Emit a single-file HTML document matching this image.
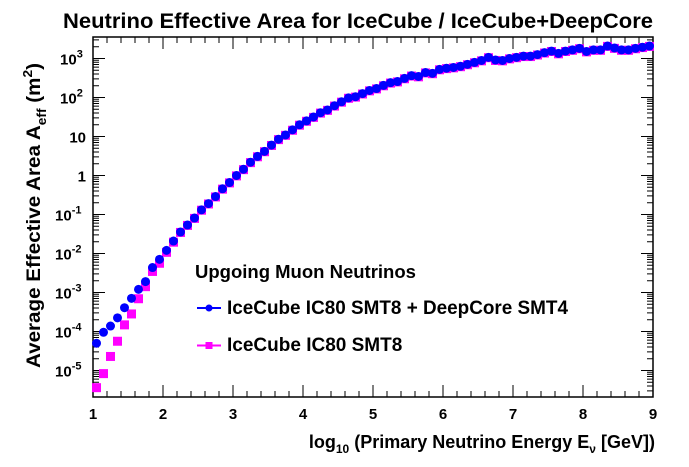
<!DOCTYPE html>
<html><head><meta charset="utf-8"><style>
body{margin:0;background:#fff;}
svg{display:block;font-family:"Liberation Sans",Arial,sans-serif;font-weight:bold;}
</style></head><body>
<svg id="chart" width="689" height="467" viewBox="0 0 689 467" xmlns="http://www.w3.org/2000/svg">
<rect width="689" height="467" fill="#fff"/>
<text x="63" y="28" font-size="21" textLength="590" lengthAdjust="spacingAndGlyphs">Neutrino Effective Area for IceCube / IceCube+DeepCore</text>
<g id="axes"></g>
<g id="marks"></g>
<text x="655" y="448" font-size="18" text-anchor="end">log<tspan font-size="12" dy="5">10</tspan><tspan dy="-5"> (Primary Neutrino Energy E</tspan><tspan font-size="12" dy="5">ν</tspan><tspan dy="-5"> [GeV])</tspan></text>
<text transform="translate(40,368) rotate(-90)" font-size="19.5" textLength="305" lengthAdjust="spacingAndGlyphs">Average Effective Area A<tspan font-size="13" dy="6">eff</tspan><tspan dy="-6">  (m</tspan><tspan font-size="13" dy="-8">2</tspan><tspan dy="8">)</tspan></text>
<g>
<text x="195" y="278" font-size="18.5">Upgoing Muon Neutrinos</text>
<g>
<line x1="197" y1="308" x2="221" y2="308" stroke="#0000ff" stroke-width="2"/>
<circle cx="209" cy="308" r="3.5" fill="#0000ff"/>
<text x="227" y="314" font-size="19" textLength="341" lengthAdjust="spacingAndGlyphs">IceCube IC80 SMT8 + DeepCore SMT4</text></g>
<g>
<line x1="197" y1="345.5" x2="221" y2="345.5" stroke="#ff00ff" stroke-width="2"/>
<rect x="205.5" y="342" width="7" height="7" fill="#ff00ff"/>
<text x="227" y="351" font-size="19">IceCube IC80 SMT8</text></g>
</g>
</svg>
<script>
const energies=[];for(let i=0;i<80;i++)energies.push(+(1.05+0.1*i).toFixed(2));
const blueLog=[-4.3,-4.02,-3.86,-3.65,-3.39,-3.15,-2.92,-2.72,-2.36,-2.15,-1.92,-1.68,-1.45,-1.27,-1.09,-0.88,-0.72,-0.54,-0.34,-0.18,
0,0.16,0.34,0.49,0.62,0.78,0.93,1.04,1.17,1.3,1.4,1.5,1.61,1.68,1.79,1.89,1.99,2.02,2.1,2.18,
2.23,2.31,2.38,2.41,2.49,2.56,2.54,2.64,2.62,2.72,2.75,2.77,2.8,2.85,2.9,2.95,3.03,2.96,2.95,3.0,
3.03,3.06,3.06,3.1,3.15,3.19,3.13,3.19,3.22,3.26,3.18,3.22,3.22,3.32,3.27,3.22,3.22,3.26,3.29,3.32];
const magentaLog=[-5.44,-5.08,-4.64,-4.25,-3.83,-3.55,-3.16,-2.85,-2.46,-2.25,-1.97,-1.71,-1.46,-1.28,-1.1,-0.89,-0.73,-0.55,-0.35,-0.19,
-0.01,0.15,0.33,0.48,0.61,0.77,0.92,1.03,1.16,1.29,1.39,1.49,1.6,1.67,1.78,1.88,1.98,2.01,2.09,2.17,
2.22,2.3,2.37,2.4,2.48,2.55,2.53,2.63,2.61,2.71,2.74,2.76,2.79,2.84,2.89,2.94,3.02,2.95,2.94,2.99,
3.02,3.05,3.05,3.09,3.14,3.18,3.12,3.18,3.21,3.25,3.17,3.21,3.21,3.31,3.26,3.21,3.21,3.25,3.28,3.31];
const xTicks=[1,2,3,4,5,6,7,8,9];
const yTickExp=[3,2,1,0,-1,-2,-3,-4,-5];
const L=93,R=653,T=37,B=397;
const X=v=>L+(v-1)*70;
const Y=lg=>175.5-39*lg;
const NS="http://www.w3.org/2000/svg";
function mk(tag,attrs,parent){const e=document.createElementNS(NS,tag);for(const k in attrs)e.setAttribute(k,attrs[k]);parent.appendChild(e);return e;}
const ax=document.getElementById('axes');
const frame=mk('rect',{x:L,y:T,width:R-L,height:B-T,fill:'none',stroke:'#000','stroke-width':1.5},ax);


let d='';
for(let v=1;v<=9.001;v+=0.2){const x=X(v);const maj=Math.abs(v-Math.round(v))<1e-6;const len=maj?12:6;d+=`M${x},${B}V${B-len}M${x},${T}V${T+len}`;}
const lo=Math.floor((175.5-B)/39),hi=Math.ceil((175.5-T)/39);
for(let e=lo;e<=hi;e++){for(let m=1;m<10;m++){const lg=e+Math.log10(m);const y=Y(lg);if(y<T||y>B)continue;const len=m==1?12:6;d+=`M${L},${y}H${L+len}M${R},${y}H${R-len}`;}}
const tk=mk('path',{d:d,stroke:'#000','stroke-width':1,fill:'none'},ax);


xTicks.forEach(v=>{const t=mk('text',{x:X(v),y:419,'font-size':15,'text-anchor':'middle'},ax);t.textContent=v;

});
yTickExp.forEach(e=>{const t=mk('text',{x:86,y:Y(e)+6,'font-size':15,'text-anchor':'end'},ax);


if(e===0)t.textContent='1';else if(e===1)t.textContent='10';else{t.textContent='10';const s=mk('tspan',{'font-size':11,dy:-7},t);s.textContent=e;t.setAttribute('text-anchor','start');t.setAttribute('x',86-(e<0?31:26));}});
const mg=document.getElementById('marks');
energies.forEach((v,i)=>{const y=Y(magentaLog[i]);if(y>B)return;const r=mk('rect',{x:X(v)-4.5,y:y-4.5,width:9,height:9,fill:'#ff00ff'},mg);

});
energies.forEach((v,i)=>{const c=mk('circle',{cx:X(v),cy:Y(blueLog[i]),r:4.5,fill:'#0000ff'},mg);

});
</script>
</body></html>
